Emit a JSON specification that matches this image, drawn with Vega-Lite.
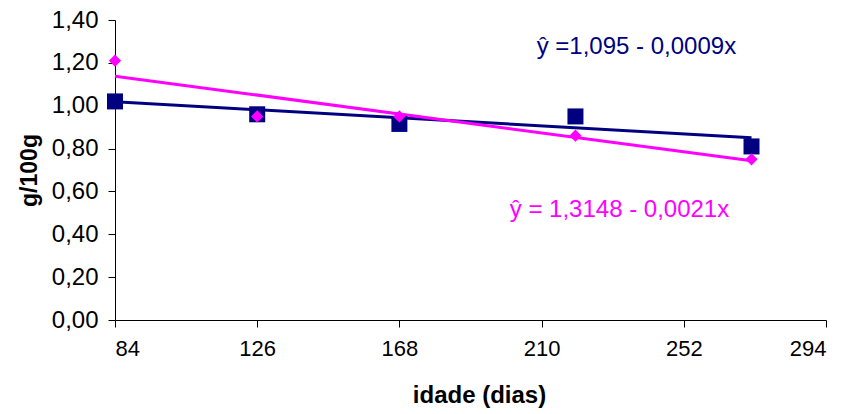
{
  "$schema": "https://vega.github.io/schema/vega-lite/v6.json",
  "width": 711,
  "height": 300,
  "autosize": {"type": "none"},
  "padding": {"left": 115, "top": 20, "right": 23, "bottom": 94},
  "background": "white",
  "config": {
    "view": {"stroke": null},
    "font": "Liberation Sans",
    "locale": {"number": {"decimal": ",", "thousands": ".", "grouping": [3], "currency": ["R$", ""]}}
  },
  "datasets": {
    "points": [
      {"dias": 84, "valor": 1.02, "serie": "A"},
      {"dias": 126, "valor": 0.96, "serie": "A"},
      {"dias": 168, "valor": 0.915, "serie": "A"},
      {"dias": 220, "valor": 0.95, "serie": "A"},
      {"dias": 272, "valor": 0.81, "serie": "A"},
      {"dias": 84, "valor": 1.21, "serie": "B"},
      {"dias": 126, "valor": 0.95, "serie": "B"},
      {"dias": 168, "valor": 0.95, "serie": "B"},
      {"dias": 220, "valor": 0.86, "serie": "B"},
      {"dias": 272, "valor": 0.75, "serie": "B"}
    ],
    "trend": [
      {"dias": 84, "valor": 1.019, "serie": "A"},
      {"dias": 272, "valor": 0.85, "serie": "A"},
      {"dias": 84, "valor": 1.138, "serie": "B"},
      {"dias": 272, "valor": 0.743, "serie": "B"}
    ],
    "labels": [
      {"dias": 238, "valor": 1.274, "serie": "A", "texto": "ŷ =1,095 - 0,0009x"},
      {"dias": 233, "valor": 0.513, "serie": "B", "texto": "ŷ = 1,3148 - 0,0021x"}
    ]
  },
  "layer": [
    {
      "data": {"name": "trend"},
      "mark": {"type": "line", "strokeWidth": 3},
      "encoding": {
        "x": {"field": "dias", "type": "quantitative", "scale": {"domain": [84, 294], "nice": false, "zero": false},
          "axis": {"title": "idade (dias)", "values": [84, 126, 168, 210, 252, 294], "grid": false,
            "domainColor": "black", "tickColor": "black", "tickSize": 7, "labelPadding": 11,
            "labelFontSize": 22, "labelColor": "black",
            "titleFontSize": 24, "titleFontWeight": "bold", "titleColor": "black", "titlePadding": 24, "titleX": 364}},
        "y": {"field": "valor", "type": "quantitative", "scale": {"domain": [0, 1.4], "nice": false},
          "axis": {"title": "g/100g", "values": [0, 0.2, 0.4, 0.6, 0.8, 1.0, 1.2, 1.4], "format": ".2f", "grid": false,
            "domainColor": "black", "tickColor": "black", "tickSize": 7, "labelPadding": 10,
            "labelFontSize": 24, "labelColor": "black",
            "titleFontSize": 23, "titleFontWeight": "bold", "titleColor": "black", "titlePadding": 10}},
        "color": {"field": "serie", "type": "nominal", "scale": {"domain": ["A", "B"], "range": ["#000080", "#FF00FF"]}, "legend": null},
        "order": {"field": "serie", "sort": "descending"}
      }
    },
    {
      "data": {"name": "points"},
      "transform": [{"filter": "datum.serie == 'A'"}],
      "mark": {"type": "point", "shape": "square", "filled": true, "size": 256, "opacity": 1},
      "encoding": {
        "x": {"field": "dias", "type": "quantitative"},
        "y": {"field": "valor", "type": "quantitative"},
        "color": {"field": "serie", "type": "nominal"}
      }
    },
    {
      "data": {"name": "points"},
      "transform": [{"filter": "datum.serie == 'B'"}],
      "mark": {"type": "point", "shape": "diamond", "filled": true, "size": 150, "opacity": 1},
      "encoding": {
        "x": {"field": "dias", "type": "quantitative"},
        "y": {"field": "valor", "type": "quantitative"},
        "color": {"field": "serie", "type": "nominal"}
      }
    },
    {
      "data": {"name": "labels"},
      "mark": {"type": "text", "fontSize": 24, "align": "center", "baseline": "middle"},
      "encoding": {
        "x": {"field": "dias", "type": "quantitative"},
        "y": {"field": "valor", "type": "quantitative"},
        "text": {"field": "texto"},
        "color": {"field": "serie", "type": "nominal"}
      }
    }
  ]
}
